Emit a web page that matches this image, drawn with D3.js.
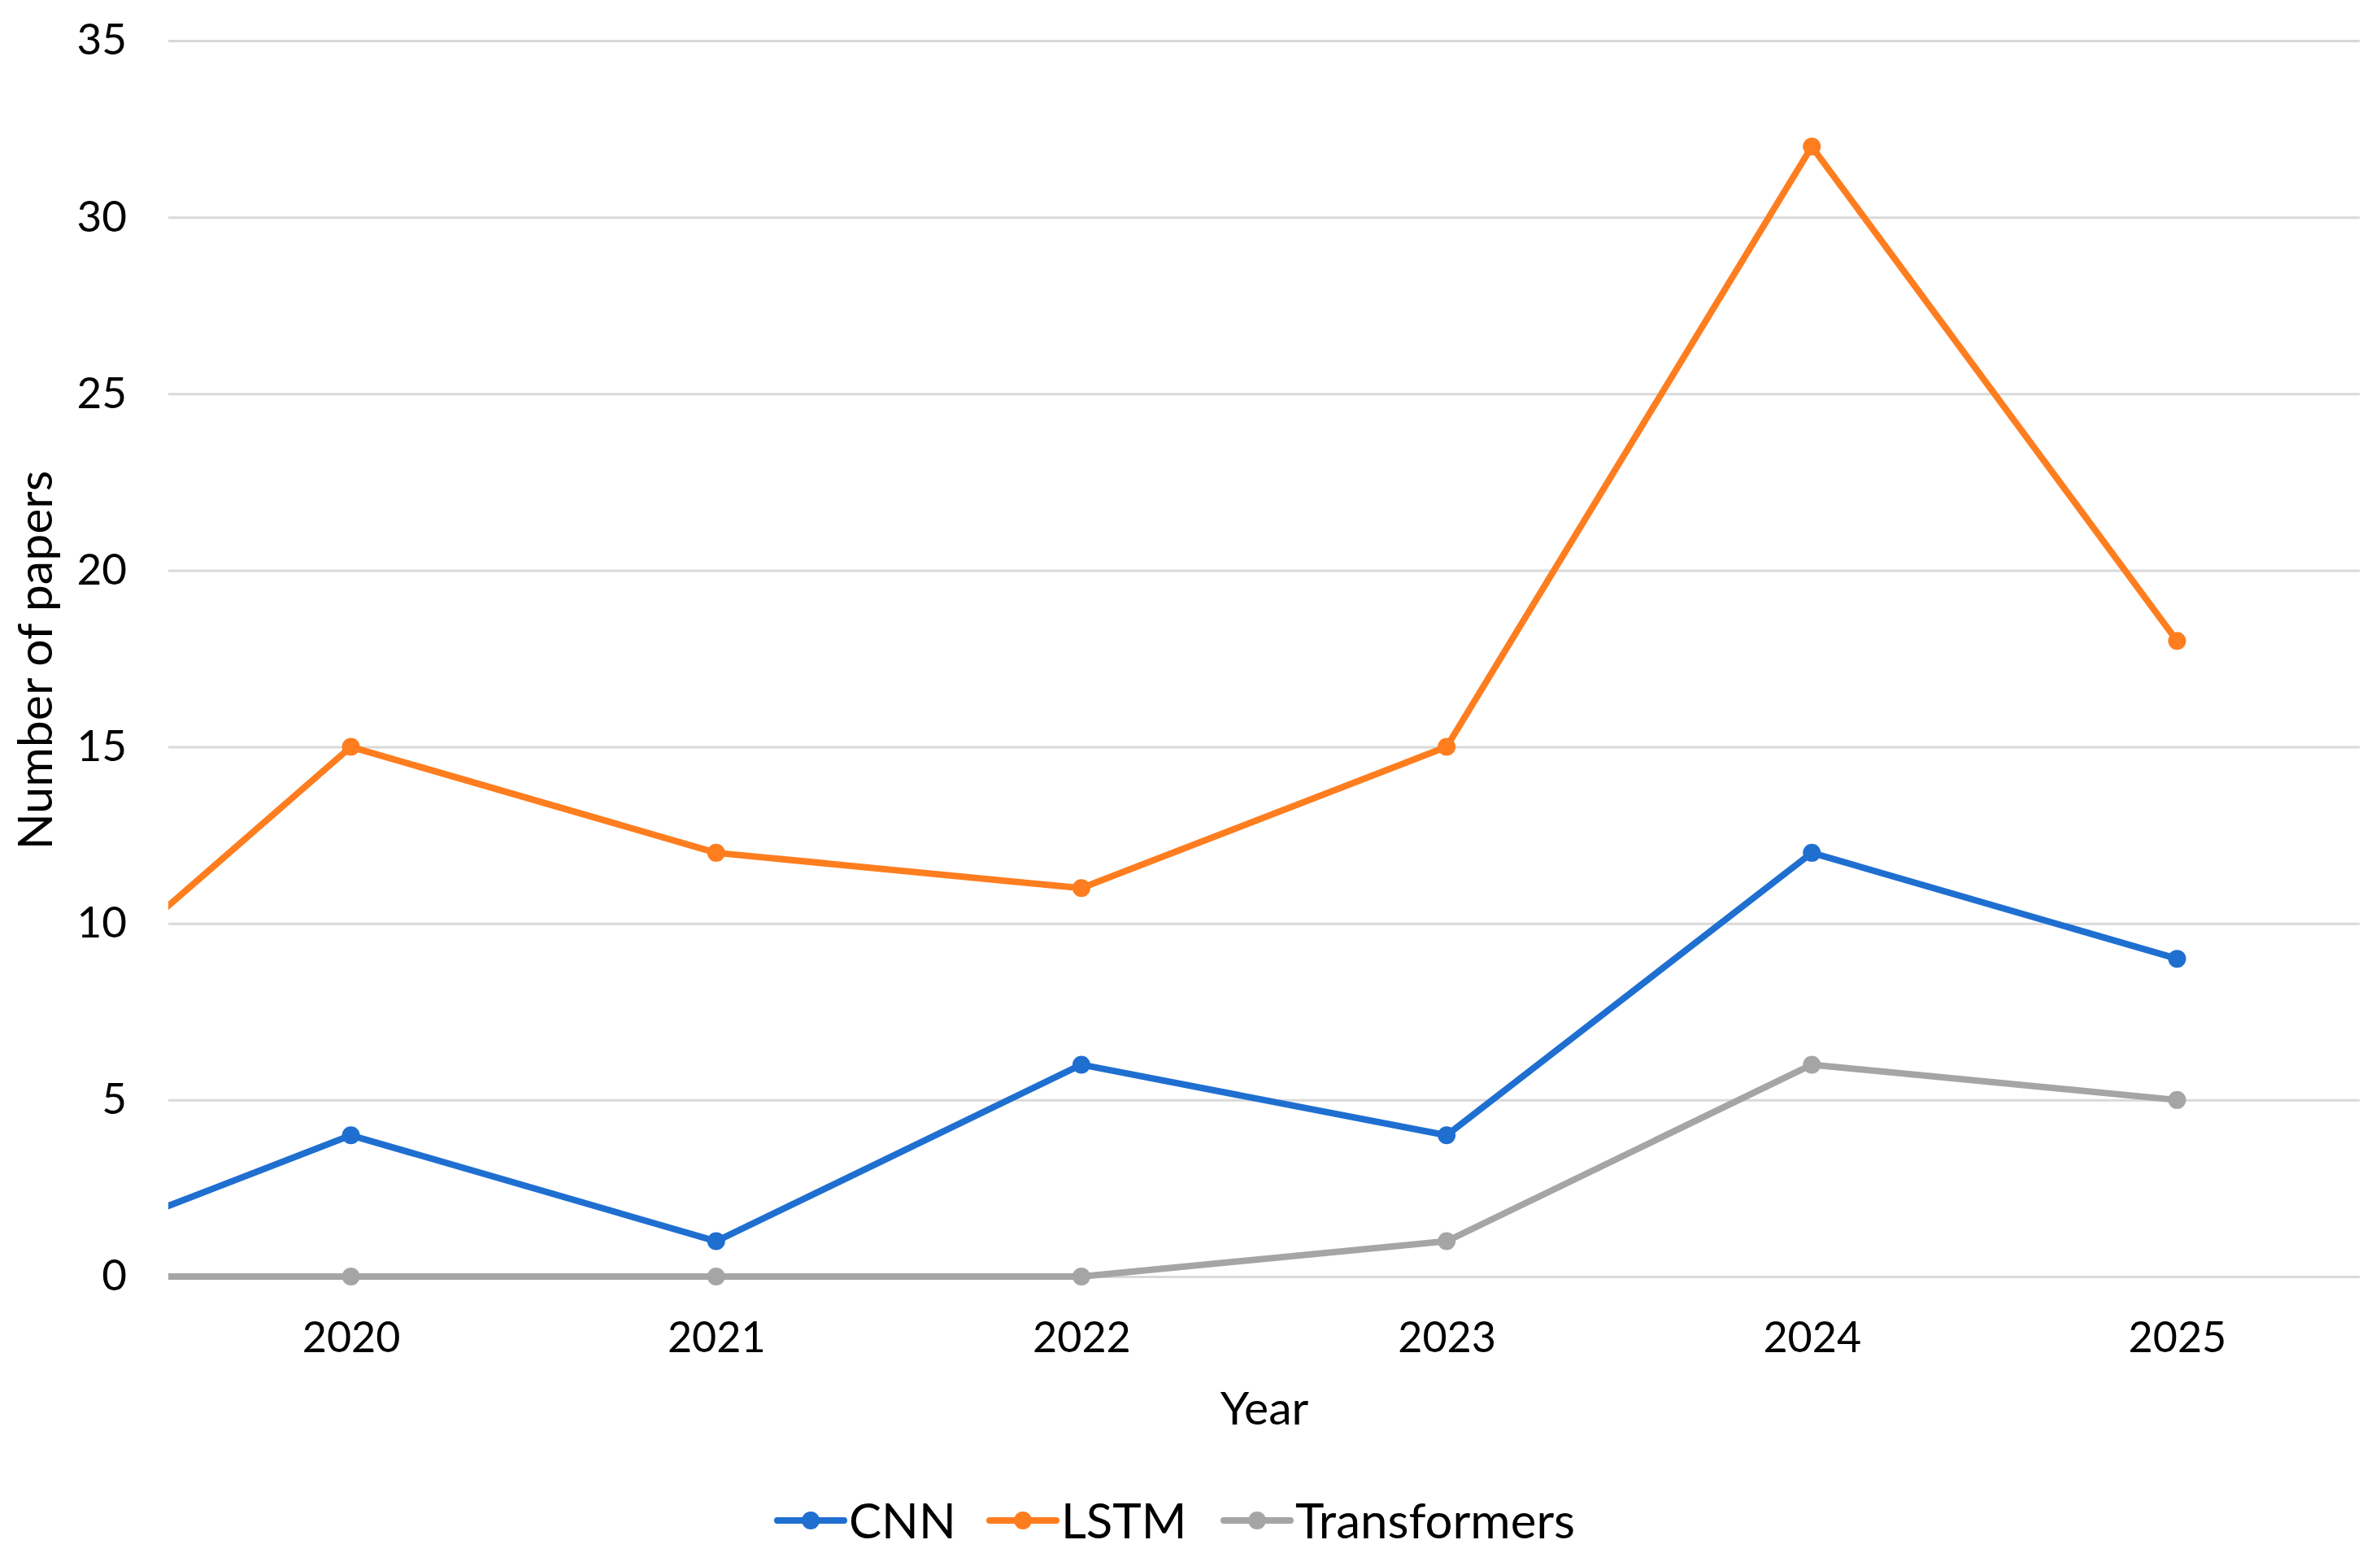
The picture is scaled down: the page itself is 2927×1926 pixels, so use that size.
<!DOCTYPE html>
<html>
<head>
<meta charset="utf-8">
<script src="https://cdn.jsdelivr.net/npm/d3@7"></script>
<style>
  body { margin: 0; background: #fff; }
  text { font-family: Lato, "Open Sans", sans-serif; fill: #000; }
</style>
</head>
<body>
<svg id="chart" width="2927" height="1926"></svg>
<script>
// data (2019 sits just outside the left edge)
const years = [2019, 2020, 2021, 2022, 2023, 2024, 2025];
const cnn = [0, 4, 1, 6, 4, 12, 9];
const lstm = [6, 15, 12, 11, 15, 32, 18];
const transformers = [0, 0, 0, 0, 1, 6, 5];
const yearTicks = [2020, 2021, 2022, 2023, 2024, 2025];
const yTicks = [0, 5, 10, 15, 20, 25, 30, 35];

const series = [
  { name: 'CNN', values: cnn, color: '#1f6fd1' },
  { name: 'LSTM', values: lstm, color: '#fe7d1f' },
  { name: 'Transformers', values: transformers, color: '#a5a5a5' }
];

const plotL = 207, plotR = 2902, plotT = 50, plotB = 1570;
const svg = d3.select('#chart');

const x = d3.scaleLinear().domain([2019.5, 2025.5]).range([plotL, plotR]);
const y = d3.scaleLinear().domain([0, 35]).range([plotB, plotT]);

// grid + y labels
const yAxis = svg.append('g')
  .attr('transform', `translate(${plotL},0)`)
  .call(d3.axisLeft(y).tickValues(yTicks).tickSize(-(plotR - plotL)).tickPadding(51));
yAxis.select('.domain').remove();
yAxis.selectAll('line').attr('stroke', '#d9d9d9').attr('stroke-width', 3);
yAxis.selectAll('text').style('font-size', '53px');

// x labels
const xAxis = svg.append('g')
  .attr('transform', `translate(0,${plotB})`)
  .call(d3.axisBottom(x).tickValues(yearTicks).tickFormat(d3.format('d')).tickSize(0).tickPadding(56));
xAxis.select('.domain').remove();
xAxis.selectAll('text').style('font-size', '52px');

svg.append('defs').append('clipPath').attr('id', 'plot')
  .append('rect').attr('x', plotL).attr('y', 0).attr('width', plotR - plotL).attr('height', plotB + 20);

const line = d3.line().x((d, i) => x(years[i])).y(d => y(d));
const plot = svg.append('g').attr('clip-path', 'url(#plot)');

// draw bottom-up so gray sits under blue/orange
series.slice().reverse().forEach(s => {
  plot.append('path')
    .datum(s.values)
    .attr('d', line)
    .attr('fill', 'none')
    .attr('stroke', s.color)
    .attr('stroke-width', 8)
    .attr('stroke-linejoin', 'round');
  plot.selectAll(null)
    .data(s.values)
    .enter().append('circle')
    .attr('cx', (d, i) => x(years[i]))
    .attr('cy', d => y(d))
    .attr('r', 11)
    .attr('fill', s.color);
});

// axis titles
svg.append('text')
  .attr('x', 1555).attr('y', 1752)
  .attr('text-anchor', 'middle')
  .style('font-size', '57px')
  .text('Year');

svg.append('text')
  .attr('transform', 'translate(64,812) rotate(-90)')
  .attr('text-anchor', 'middle')
  .style('font-size', '59px')
  .text('Number of papers');

// legend
const legendX = [956, 1217, 1505];
const legend = svg.append('g');
series.forEach((s, i) => {
  const g = legend.append('g').attr('transform', `translate(${legendX[i]},1870)`);
  g.append('line').attr('x1', 0).attr('x2', 82).attr('y1', 0).attr('y2', 0)
    .attr('stroke', s.color).attr('stroke-width', 8).attr('stroke-linecap', 'round');
  g.append('circle').attr('cx', 41).attr('cy', 0).attr('r', 11).attr('fill', s.color);
  g.append('text').attr('x', 88).attr('y', 0).attr('dy', '0.36em')
    .style('font-size', '60px').text(s.name);
});
</script>
</body>
</html>
